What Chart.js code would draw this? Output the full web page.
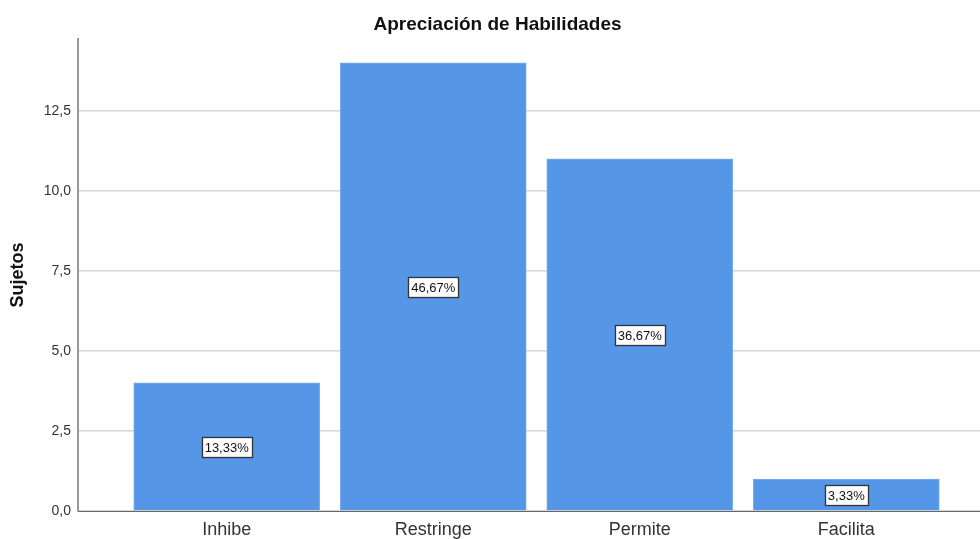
<!DOCTYPE html>
<html>
<head>
<meta charset="utf-8">
<script src="https://cdn.jsdelivr.net/npm/chart.js@4"></script>
<style>
  html, body { margin: 0; padding: 0; background: #fff; overflow: hidden; }
  #wrap { width: 995px; height: 539px; }
</style>
</head>
<body>
<div id="wrap"><canvas id="myChart" width="995" height="539"></canvas></div>
<script>
const categories = ['Inhibe', 'Restringe', 'Permite', 'Facilita'];
const sujetos = [4, 14, 11, 1];
const yTicks = [0, 2.5, 5, 7.5, 10, 12.5];

const total = sujetos.reduce((a, b) => a + b, 0);
const fmt = (v, d) => v.toFixed(d).replace('.', ',');

// draws the white boxed percentage labels in the middle of each bar
const boxLabels = {
    id: 'boxLabels',
    afterDatasetsDraw(chart) {
        const ctx = chart.ctx;
        const meta = chart.getDatasetMeta(0);
        ctx.save();
        ctx.font = '13px "Liberation Sans", Arial, sans-serif';
        ctx.textAlign = 'center';
        ctx.textBaseline = 'middle';
        meta.data.forEach((bar, i) => {
            const txt = fmt(sujetos[i] / total * 100, 2) + '%';
            const cy = Math.round((bar.y + bar.base) / 2);
            const w = Math.round(ctx.measureText(txt).width + 6);
            const h = 20;
            const x0 = Math.round(bar.x - w / 2) + 0.5;
            const y0 = Math.round(cy - h / 2) + 0.5;
            ctx.fillStyle = '#ffffff';
            ctx.fillRect(x0, y0, w, h);
            ctx.strokeStyle = '#333333';
            ctx.lineWidth = 1.3;
            ctx.strokeRect(x0, y0, w, h);
            ctx.fillStyle = '#111111';
            ctx.fillText(txt, bar.x, cy + 1);
        });
        ctx.restore();
    }
};

const drawChart = () => {
    const ctx = document.getElementById('myChart');
    new Chart(ctx, {
        type: 'bar',
        data: {
            datasets: [{
                label: 'Sujetos',
                data: sujetos.map((v, i) => ({ x: i, y: v })),
                backgroundColor: '#5596e6',
                borderColor: '#7aaef0',
                borderWidth: 1,
                barThickness: 186
            }]
        },
        options: {
            responsive: false,
            animation: false,
            maintainAspectRatio: false,
            layout: { padding: { left: 0, right: 0, top: 0, bottom: 0 } },
            plugins: {
                legend: { display: false },
                tooltip: { enabled: false },
                title: {
                    display: true,
                    text: 'Apreciación de Habilidades',
                    color: '#111',
                    font: { family: '"Liberation Sans", Arial, sans-serif', size: 19, weight: 'bold' },
                    padding: { top: 13, bottom: 3 }
                }
            },
            scales: {
                x: {
                    type: 'linear',
                    offset: false,
                    min: -0.72,
                    max: 3.72,
                    grid: { display: false, drawTicks: false },
                    border: { display: true, color: '#666', width: 1 },
                    afterBuildTicks: s => { s.ticks = categories.map((c, i) => ({ value: i })); },
                    afterFit: s => { s.height = 28; },
                    ticks: {
                        padding: 8,
                        color: '#333',
                        font: { family: '"Liberation Sans", Arial, sans-serif', size: 18 },
                        callback: v => categories[v]
                    }
                },
                y: {
                    min: 0,
                    max: 14.75,
                    grid: { color: '#d6d6d6', lineWidth: 1.5, drawTicks: false },
                    border: { display: true, color: '#999', width: 2 },
                    afterBuildTicks: s => { s.ticks = yTicks.map(v => ({ value: v })); },
                    afterFit: s => { s.width = 78; },
                    ticks: {
                        padding: 7,
                        color: '#333',
                        font: { family: '"Liberation Sans", Arial, sans-serif', size: 14 },
                        callback: v => fmt(v, 1)
                    },
                    title: {
                        display: true,
                        text: 'Sujetos',
                        color: '#111',
                        font: { family: '"Liberation Sans", Arial, sans-serif', size: 18, weight: 'bold' },
                        padding: { top: 7, bottom: 0 }
                    }
                }
            }
        },
        plugins: [boxLabels]
    });
}

drawChart();
</script>
</body>
</html>
